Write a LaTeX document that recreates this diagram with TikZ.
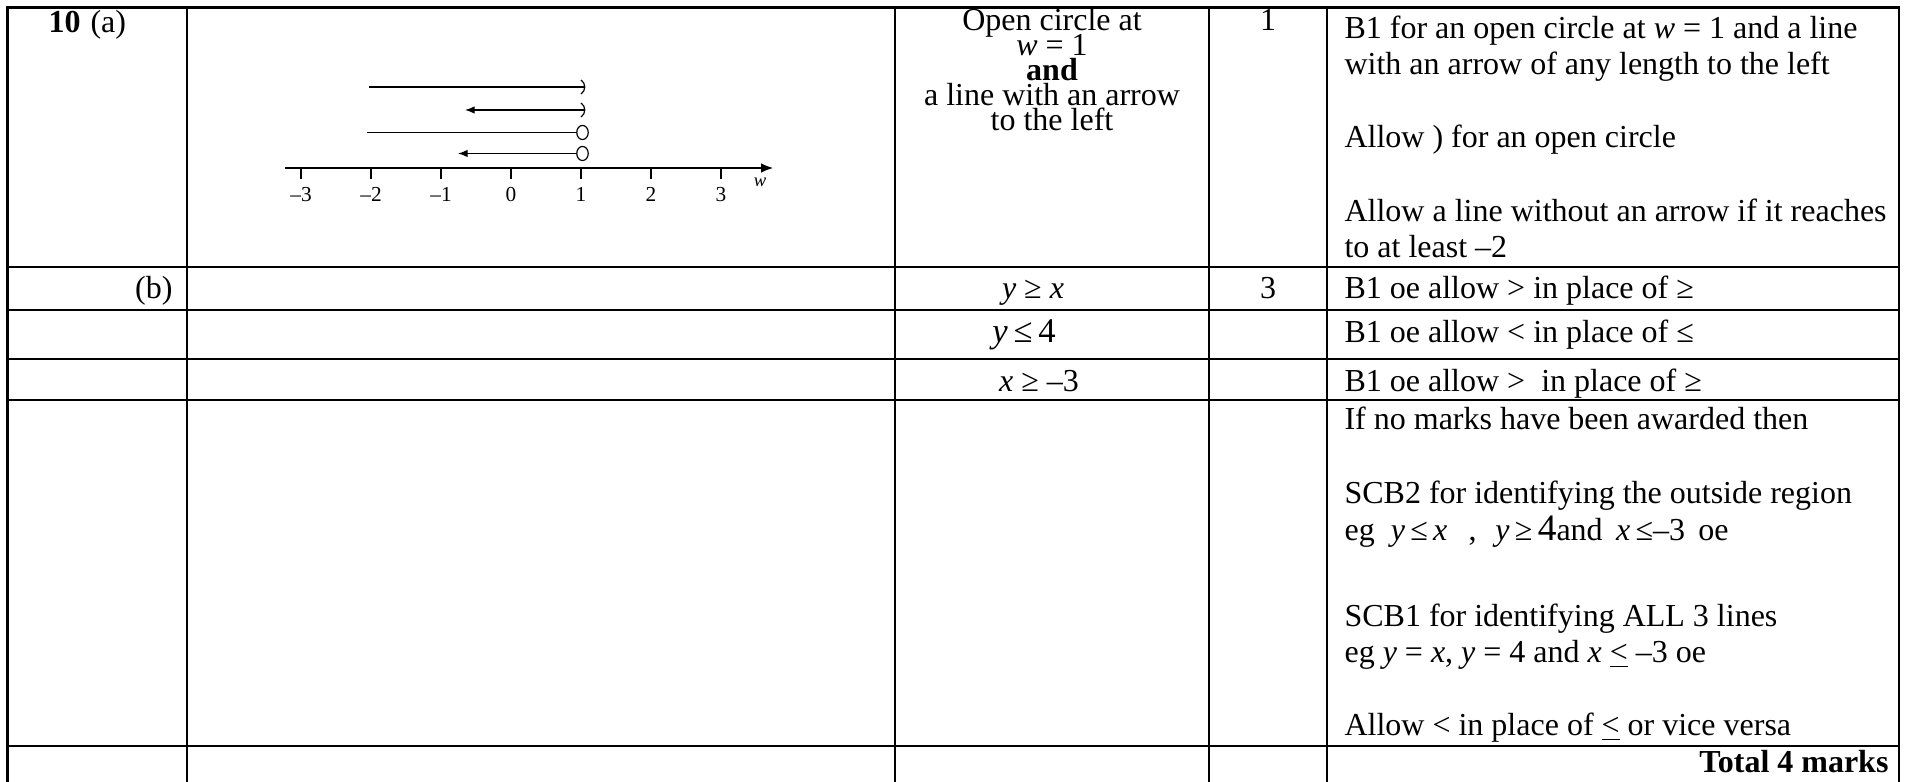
\documentclass[tikz,border=0pt]{standalone}
\usepackage{fontspec}
\setmainfont{Liberation Serif}
\usetikzlibrary{arrows.meta,shapes.geometric}

\tikzset{
    rule/.style={line width=1.1pt, line cap=rect},
    txt/.style={anchor=base west, inner sep=0pt},
    ctxt/.style={anchor=base, inner sep=0pt},
    numlab/.style={anchor=base, inner sep=0pt, font=\fontsize{8}{9}\selectfont},
    opencirc/.style={draw, ellipse, line width=0.45pt, inner sep=0pt, minimum width=4.3pt, minimum height=5.3pt},
    tip/.style={-{Latex[length=3.6pt,width=2.8pt]}},
}

\begin{document}
\begin{tikzpicture}[x=0.375pt, y=-0.375pt, font=\fontsize{12}{14}\selectfont]
        \useasboundingbox (0,0) rectangle (1906,782);

        % Table rules
        \foreach \y in {7.3,267,310,359,400,746} {
            \draw[rule] (7.5,\y) -- (1899,\y);
        }
        \foreach \x in {7.5,187,895,1209,1327,1899} {
            \draw[rule] (\x,7.3) -- (\x,782);
        }

        % Question numbers
        \node[txt] (qnum) at (48,33) {\textbf{10}};
        \node[txt] (qa) at (90,33) {(a)};
        \node[anchor=base east, inner sep=0pt] (qb) at (173,299) {(b)};

        % Number line
        \coordinate (axl) at (285,168);
        \coordinate (axr) at (773,168);
        \draw[line width=0.45pt, -{Latex[length=4.5pt,width=3.6pt]}] (axl) -- (axr);
        \foreach \k/\lab in {-3/–3,-2/–2,-1/–1,0/0,1/1,2/2,3/3} {
            \draw[line width=0.45pt] (511+70*\k,168) -- ++(0,11);
            \node[numlab] (lab\k) at (511+70*\k,202) {\lab};
        }
        \node[numlab, font=\fontsize{7}{8}\selectfont\itshape] (wlab) at (760,187) {w};

        % Candidate lines
        \coordinate (s1) at (369,87);
        \coordinate (e1) at (584,87);
        \draw[line width=0.45pt] (s1) -- (e1);
        \draw[line width=0.45pt] (581,80) .. controls (586,83) and (586,91) .. (581,94);

        \coordinate (t2) at (465,110);
        \coordinate (e2) at (584,110);
        \draw[line width=0.45pt, tip] (e2) -- (t2);
        \draw[line width=0.45pt] (581,103) .. controls (586,106) and (586,114) .. (581,117);

        \coordinate (s3) at (367,132.5);
        \node[opencirc] (c3) at (582.5,132.5) {};
        \draw[line width=0.45pt] (s3) -- (c3);

        \coordinate (t4) at (458,153.5);
        \node[opencirc] (c4) at (582.5,153.5) {};
        \draw[line width=0.45pt, tip] (c4) -- (t4);

        % Answers
        \node[ctxt] (m1) at (1052,31) {Open circle at};
        \node[ctxt] (m2) at (1052,56) {\textit{w} = 1};
        \node[ctxt] (m3) at (1052,81) {\textbf{and}};
        \node[ctxt] (m4) at (1052,106) {a line with an arrow};
        \node[ctxt] (m5) at (1052,131) {to the left};
        \node[ctxt] (m6) at (1033,299) {\textit{y} ≥ \textit{x}};
        \node[ctxt, font=\fontsize{13}{15}\selectfont] (m7) at (1024,343) {\textit{y}\,≤\,4};
        \node[ctxt] (m8) at (1039,391.5) {\textit{x} ≥ –3};

        % Marks
        \node[ctxt] (k1) at (1268,31) {1};
        \node[ctxt] (k2) at (1268,299) {3};

        % Guidance
        \node[txt] (g1) at (1344,39) {B1 for an open circle at \textit{w} = 1 and a line};
        \node[txt] (g2) at (1344,74.5) {with an arrow of any length to the left};
        \node[txt] (g3) at (1344,148) {Allow ) for an open circle};
        \node[txt] (g4) at (1344,222) {Allow a line without an arrow if it reaches};
        \node[txt] (g5) at (1344,258) {to at least –2};
        \node[txt] (g6) at (1344,299) {B1 oe allow > in place of ≥};
        \node[txt] (g7) at (1344,343) {B1 oe allow < in place of ≤};
        \node[txt] (g8) at (1344,391.5) {B1 oe allow >\ \ in place of ≥};
        \node[txt] (g9) at (1344,430) {If no marks have been awarded then};
        \node[txt] (g10) at (1344,504) {SCB2 for identifying the outside region};
        \node[txt] (g11) at (1344,541) {eg\ \ \textit{y}\,≤\,\textit{x}\hspace{8pt},\hspace{7pt}\textit{y}\,≥\,{\fontsize{14}{15}\selectfont 4}and\hspace{5pt}\textit{x}\,≤–3\hspace{5pt}oe};
        \node[txt] (g12) at (1344,626.5) {SCB1 for identifying ALL 3 lines};
        \node[txt] (g13) at (1344,662.5) {eg \textit{y} = \textit{x}, \textit{y} = 4 and \textit{x} \underline{<} –3 oe};
        \node[txt] (g14) at (1344,736) {Allow < in place of \underline{<} or vice versa};
        \node[anchor=base east, inner sep=0pt] (tot) at (1889,773) {\textbf{Total 4 marks}};
    \end{tikzpicture}
\end{document}
